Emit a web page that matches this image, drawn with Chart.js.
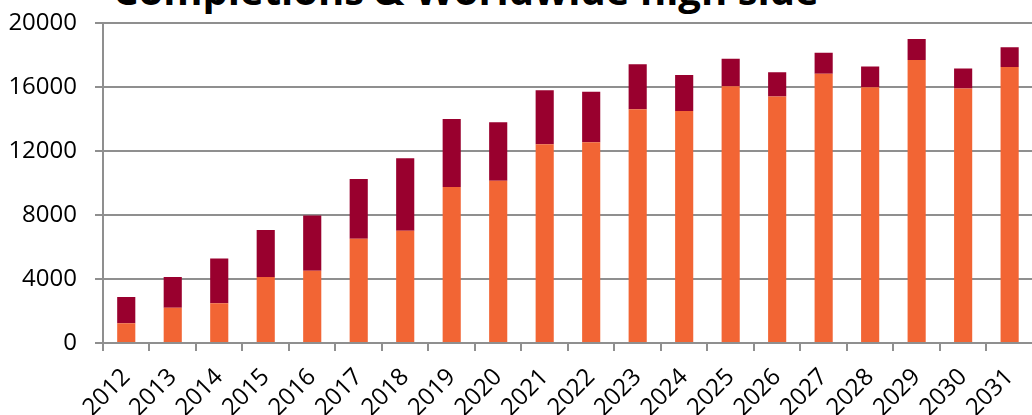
<!DOCTYPE html>
<html lang="en">
<head>
    <meta charset="UTF-8">
    <title>Completions & Worldwide high side</title>
    <script src="https://cdn.jsdelivr.net/npm/chart.js"></script>
    <style>
        html, body { margin: 0; padding: 0; background: #fff; overflow: hidden; width: 1032px; height: 415px; }
        .title { position: absolute; left: 113px; top: -30px; font: bold 40px "Open Sans"; line-height: 40px; color: #000; white-space: nowrap; }
        .chart-box { position: absolute; left: 0; top: -9px; width: 1042px; height: 424px; }
    </style>
</head>
<body>
    <div class="title">Completions &amp; Worldwide high side</div>
    <div class="chart-box"><canvas id="chart"></canvas></div>

    <script>
        // values
        const years = ['2012', '2013', '2014', '2015', '2016', '2017', '2018', '2019', '2020', '2021',
                       '2022', '2023', '2024', '2025', '2026', '2027', '2028', '2029', '2030', '2031'];
        const baseValues = [1230, 2210, 2480, 4125, 4520, 6520, 7020, 9770, 10150, 12440,
                            12560, 14630, 14520, 16060, 15420, 16850, 16000, 17710, 15920, 17270];
        const topValues  = [1645, 1915, 2810, 2940, 3460, 3750, 4540, 4250, 3660, 3370,
                            3170, 2810, 2250, 1730, 1520, 1320, 1310, 1310, 1250, 1230];
        const yTicks = [0, 4000, 8000, 12000, 16000, 20000];

        const gridGray = '#8f8f8f';
        const tickFont = { family: 'Open Sans', size: 24 };

        new Chart(document.getElementById('chart'), {
            type: 'bar',
            data: {
                labels: years,
                datasets: [
                    { label: 'base', data: baseValues, backgroundColor: '#f26534' },
                    { label: 'top', data: topValues, backgroundColor: '#99002e' }
                ]
            },
            options: {
                responsive: true,
                maintainAspectRatio: false,
                animation: false,
                layout: { padding: { top: 14, right: 0, left: 0, bottom: 0 } },
                datasets: { bar: { categoryPercentage: 1, barPercentage: 0.39 } },
                plugins: { legend: { display: false }, tooltip: { enabled: false }, title: { display: false } },
                scales: {
                    x: {
                        stacked: true,
                        grid: { offset: true, drawOnChartArea: false, color: gridGray, lineWidth: 2, tickLength: 8 },
                        border: { color: gridGray, width: 2 },
                        ticks: { color: '#000', font: tickFont, minRotation: 45, maxRotation: 45, autoSkip: false, padding: 12 },
                        afterFit: (s) => { s.height = 72; }
                    },
                    y: {
                        stacked: true,
                        min: 0,
                        max: 20000,
                        afterBuildTicks: (s) => { s.ticks = yTicks.map(v => ({ value: v })); },
                        grid: { color: gridGray, lineWidth: 2, tickLength: 8 },
                        border: { color: gridGray, width: 2 },
                        ticks: { color: '#000', font: tickFont, padding: 18, callback: (v) => String(v) },
                        afterFit: (s) => { s.width = 103; }
                    }
                }
            }
        });
    </script>
</body>
</html>
